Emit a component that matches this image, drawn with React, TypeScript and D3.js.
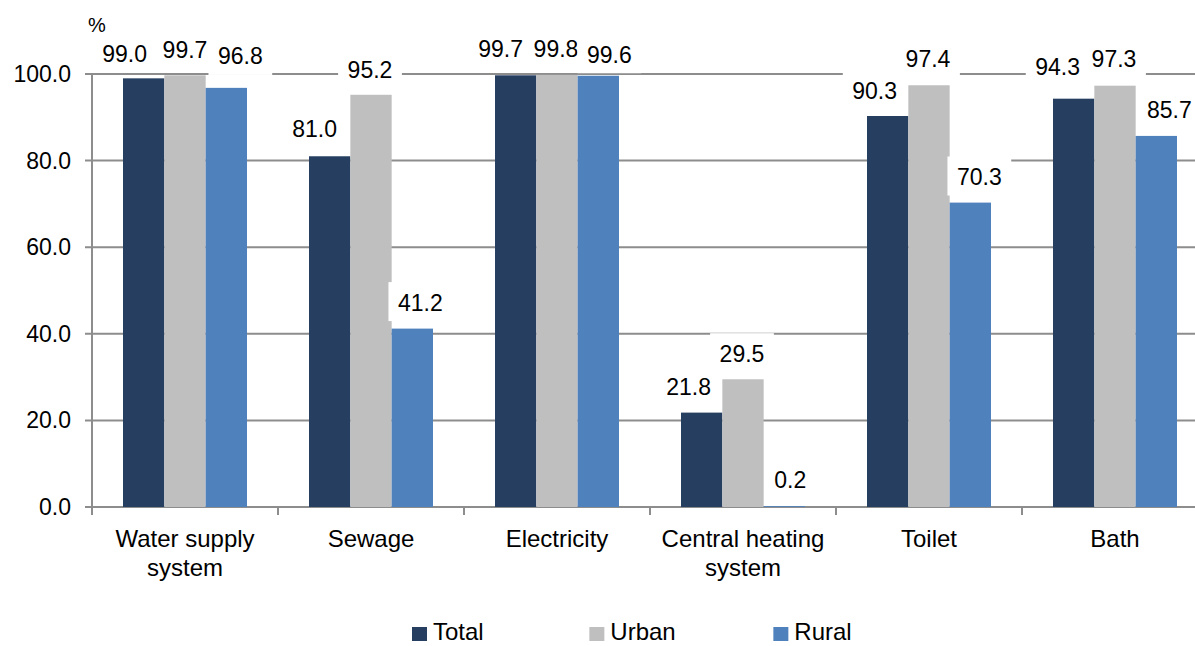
import React from "react";
import * as d3 from "d3";

// Household amenities, % of dwellings equipped
const categories: string[][] = [
  ["Water supply", "system"],
  ["Sewage"],
  ["Electricity"],
  ["Central heating", "system"],
  ["Toilet"],
  ["Bath"],
];
const totalValues = [99.0, 81.0, 99.7, 21.8, 90.3, 94.3];
const urbanValues = [99.7, 95.2, 99.8, 29.5, 97.4, 97.3];
const ruralValues = [96.8, 41.2, 99.6, 0.2, 70.3, 85.7];
const yTicks = [0, 20, 40, 60, 80, 100];
const seriesNames = ["Total", "Urban", "Rural"];

// Hand-placed label nudges: horizontal shift and height of baseline above the bar top
const totalLabelShift = [[-19, 16.3], [-15, 19.6], [-15, 18], [-13, 17.6], [-13, 16.7], [-16, 23.7]];
const urbanLabelShift = [[0, 17.3], [-1, 16.5], [-1, 18.2], [-1, 17.6], [-1, 18], [-1, 19]];
const ruralLabelShift = [[14, 23.4], [8, 18], [11, 13], [6, 17.8], [9, 17.6], [13, 17.6]];

const COLORS = ["#263f61", "#bfbfbf", "#4f81bd"];
const FONT = "Liberation Sans, Arial, Helvetica, sans-serif";
const FS = 23; // numbers
const FS_TEXT = 24; // category and legend text
const GRID = "#8d8d8d";

const W = 1195;
const H = 646;
const left = 92;
const bandW = 186;
const x0 = d3
  .scaleBand<number>()
  .domain(categories.map((_, i) => i))
  .range([left, left + bandW * categories.length])
  .paddingInner(0)
  .paddingOuter(0);
const x1 = d3
  .scaleBand<number>()
  .domain([0, 1, 2])
  .range([31, bandW - 31])
  .padding(0);
const y = d3.scaleLinear().domain([0, 100]).range([507, 74]);

// Approximate width of a numeric label from Arial-like glyph widths
function labelWidth(s: string) {
  let w = 0;
  for (const c of s) w += c === "." ? 0.278 : 0.556;
  return w * FS;
}

export default function App() {
  const series = [totalValues, urbanValues, ruralValues];
  const shifts = [totalLabelShift, urbanLabelShift, ruralLabelShift];
  const plotRight = W + 20;
  const fmt = d3.format(".1f");

  const legendWidths = [2.223, 2.5, 2.222].map((e) => e * FS_TEXT);
  let lx = 412;
  const legendX: number[] = [];
  legendWidths.forEach((w) => {
    legendX.push(lx);
    lx += 15 + 6 + w + 103;
  });

  return (
    <svg
      width={W}
      height={H}
      style={{ position: "absolute", left: 0, top: 0, background: "#fff", fontFamily: FONT }}
    >
      {/* horizontal gridlines and y ticks */}
      {yTicks.map((t) => (
        <g key={t}>
          <line x1={left - 7} x2={plotRight} y1={y(t)} y2={y(t)} stroke={GRID} strokeWidth={2} />
          <text x={71} y={y(t)} dy="0.35em" textAnchor="end" fontSize={FS} fill="#000">
            {fmt(t)}
          </text>
        </g>
      ))}
      <text x={88} y={32} fontSize={20} fill="#000">%</text>

      {/* axes */}
      <line x1={left} x2={left} y1={y(100)} y2={515} stroke={GRID} strokeWidth={2} />
      {categories.map((_, i) => (
        <line
          key={i}
          x1={x0(i)!}
          x2={x0(i)!}
          y1={y(0)}
          y2={515}
          stroke={GRID}
          strokeWidth={2}
        />
      ))}

      {/* bars */}
      {categories.map((_, i) => (
        <g key={i} transform={`translate(${x0(i)},0)`}>
          {series.map((vals, s) => (
            <rect
              key={s}
              x={x1(s)!}
              y={y(vals[i])}
              width={x1.bandwidth()}
              height={y(0) - y(vals[i])}
              fill={COLORS[s]}
            />
          ))}
        </g>
      ))}

      {/* value labels on white boxes */}
      {categories.map((_, i) =>
        series.map((vals, s) => {
          const v = vals[i];
          const txt = fmt(v);
          const cx = x0(i)! + x1(s)! + x1.bandwidth() / 2 + shifts[s][i][0];
          const base = y(v) - shifts[s][i][1];
          const tw = labelWidth(txt);
          return (
            <g key={`${i}-${s}`}>
              <rect
                x={cx - tw / 2 - 9.5}
                y={base - 28.5}
                width={tw + 19}
                height={39}
                fill="#fff"
              />
              <text x={cx} y={base} textAnchor="middle" fontSize={FS} fill="#000">
                {txt}
              </text>
            </g>
          );
        })
      )}

      {/* category labels */}
      {categories.map((lines, i) => (
        <text
          key={i}
          x={x0(i)! + bandW / 2}
          y={547}
          textAnchor="middle"
          fontSize={FS_TEXT}
          fill="#000"
        >
          {lines.map((ln, k) => (
            <tspan key={k} x={x0(i)! + bandW / 2} y={547 + k * 29}>
              {ln}
            </tspan>
          ))}
        </text>
      ))}

      {/* legend */}
      {seriesNames.map((name, s) => (
        <g key={name}>
          <rect x={legendX[s]} y={627} width={15} height={14} fill={COLORS[s]} />
          <text x={legendX[s] + 21} y={640} fontSize={FS_TEXT} fill="#000">
            {name}
          </text>
        </g>
      ))}
    </svg>
  );
}
